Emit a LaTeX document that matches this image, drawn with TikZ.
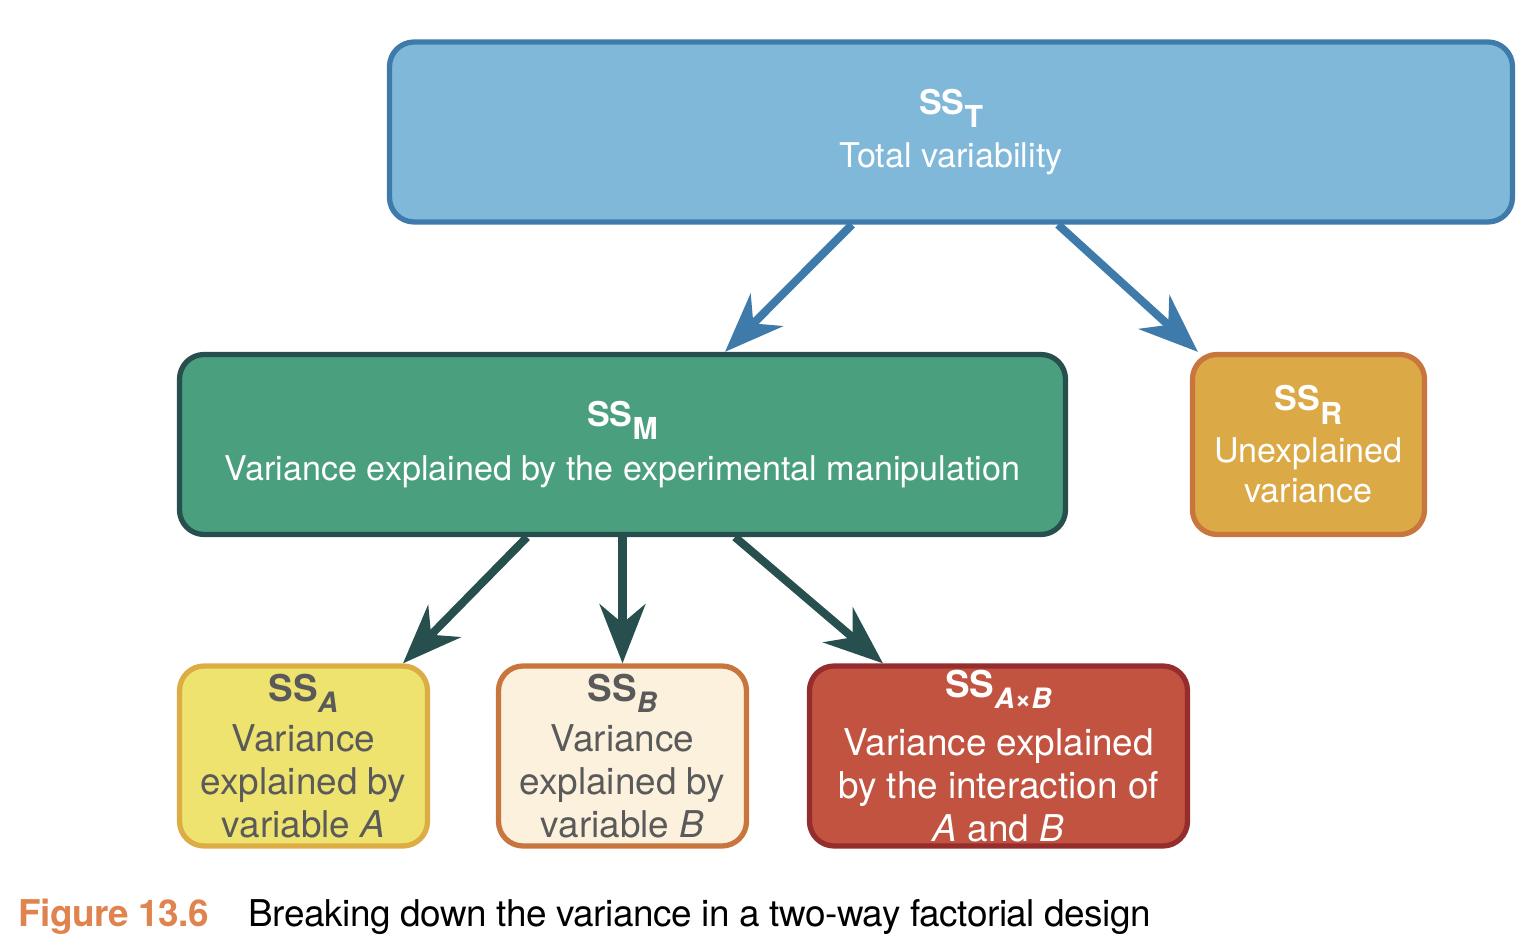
\documentclass[tikz,border=0pt]{standalone}
\usepackage{fontspec}
\setmainfont{TeX Gyre Heros}
\usetikzlibrary{arrows.meta,positioning,calc}
\definecolor{tfill}{HTML}{80B8D9}
\definecolor{tdraw}{HTML}{3E7BAA}
\definecolor{mfill}{HTML}{4A9F7E}
\definecolor{mdraw}{HTML}{264F4D}
\definecolor{rfill}{HTML}{DBA945}
\definecolor{rdraw}{HTML}{C8763E}
\definecolor{afill}{HTML}{EEE36E}
\definecolor{adraw}{HTML}{DDAD45}
\definecolor{bfill}{HTML}{FCF1DC}
\definecolor{abfill}{HTML}{C25340}
\definecolor{abdraw}{HTML}{952D2D}
\definecolor{boxgray}{HTML}{5A5A5A}
\definecolor{figorange}{HTML}{E0844F}
\tikzset{
  box/.style={draw, rounded corners=7pt, line width=1.5pt, align=center, inner sep=0pt, minimum height=1.8cm},
  bluearrow/.style={draw=tdraw, line width=2.3pt, -{Stealth[length=16.8pt,width=13pt,inset=5.4pt]}},
  greenarrow/.style={draw=mdraw, line width=2.3pt, -{Stealth[length=16.8pt,width=13pt,inset=5.4pt]}}
}
% heading: subscript, size of subscript, drop of subscript
\newcommand{\sshead}[3]{\textbf{SS\raisebox{-#3}{\fontsize{#2}{#2}\selectfont #1}}}

\begin{document}
\begin{tikzpicture}
			\useasboundingbox (0,0) rectangle (15.32,-9.48);
			%top box
			\node[box, fill=tfill, draw=tdraw, text=white, minimum width=11.23cm, font=\fontsize{9.7}{11.8}\selectfont](T) at (9.51,-1.32){\sshead{T}{8.6pt}{3.8pt}\\[3.5pt]Total variability};
			%middle row
			\node[box, fill=mfill, draw=mdraw, text=white, minimum width=8.86cm, font=\fontsize{9.7}{11.8}\selectfont](M) at (6.225,-4.445){\sshead{M}{8.6pt}{3.8pt}\\[3.5pt]Variance explained by the experimental manipulation};
			\node[box, fill=rfill, draw=rdraw, text=white, minimum width=2.32cm, font=\fontsize{9.7}{11.6}\selectfont](R) at (13.085,-4.445){\sshead{R}{8.6pt}{3.8pt}\\[3pt]Unexplained\\variance};
			%bottom row
			\node[box, fill=afill, draw=adraw, text=boxgray, minimum width=2.48cm, font=\fontsize{10.5}{12.2}\selectfont](A) at (3.035,-7.56){\sshead{\textbf{\textit{A}}}{8pt}{3.2pt}\\[2.2pt]Variance\\explained by\\variable \textit{A}};
			\node[box, fill=bfill, draw=rdraw, text=boxgray, minimum width=2.48cm, font=\fontsize{10.5}{12.2}\selectfont](B) at (6.225,-7.56){\sshead{\textbf{\textit{B}}}{8pt}{3.2pt}\\[2.2pt]Variance\\explained by\\variable \textit{B}};
			\node[box, fill=abfill, draw=abdraw, text=white, minimum width=3.78cm, font=\fontsize{10.5}{12.2}\selectfont](AB) at (9.985,-7.56){\sshead{\textbf{\textit{A}×\textit{B}}}{8pt}{3.2pt}\\[4.2pt]Variance explained\\by the interaction of\\\textit{A} and \textit{B}};
			%arrows
			\draw[bluearrow] ([xshift=-0.99cm]T.south) -- ([xshift=1.025cm]M.north);
			\draw[bluearrow] ([xshift=1.07cm]T.south) -- ([xshift=0.08cm]R.north west);
			\draw[greenarrow] ([xshift=-0.955cm]M.south) -- ([xshift=0.995cm]A.north);
			\draw[greenarrow] (M.south) -- (B.north);
			\draw[greenarrow] ([xshift=1.125cm]M.south) -- ([xshift=-1.155cm]AB.north);
			%caption
			\node[anchor=base west, inner sep=0pt, text=figorange, font=\fontsize{10.5}{12}\selectfont\bfseries\addfontfeature{LetterSpace=-1.5}](fig) at (0.18,-9.27){Figure 13.6};
			\node[anchor=base west, inner sep=0pt, font=\fontsize{10.5}{12}\selectfont\addfontfeature{LetterSpace=-1.3}](cap) at (2.48,-9.27){Breaking down the variance in a two-way factorial design};
\end{tikzpicture}
\end{document}
